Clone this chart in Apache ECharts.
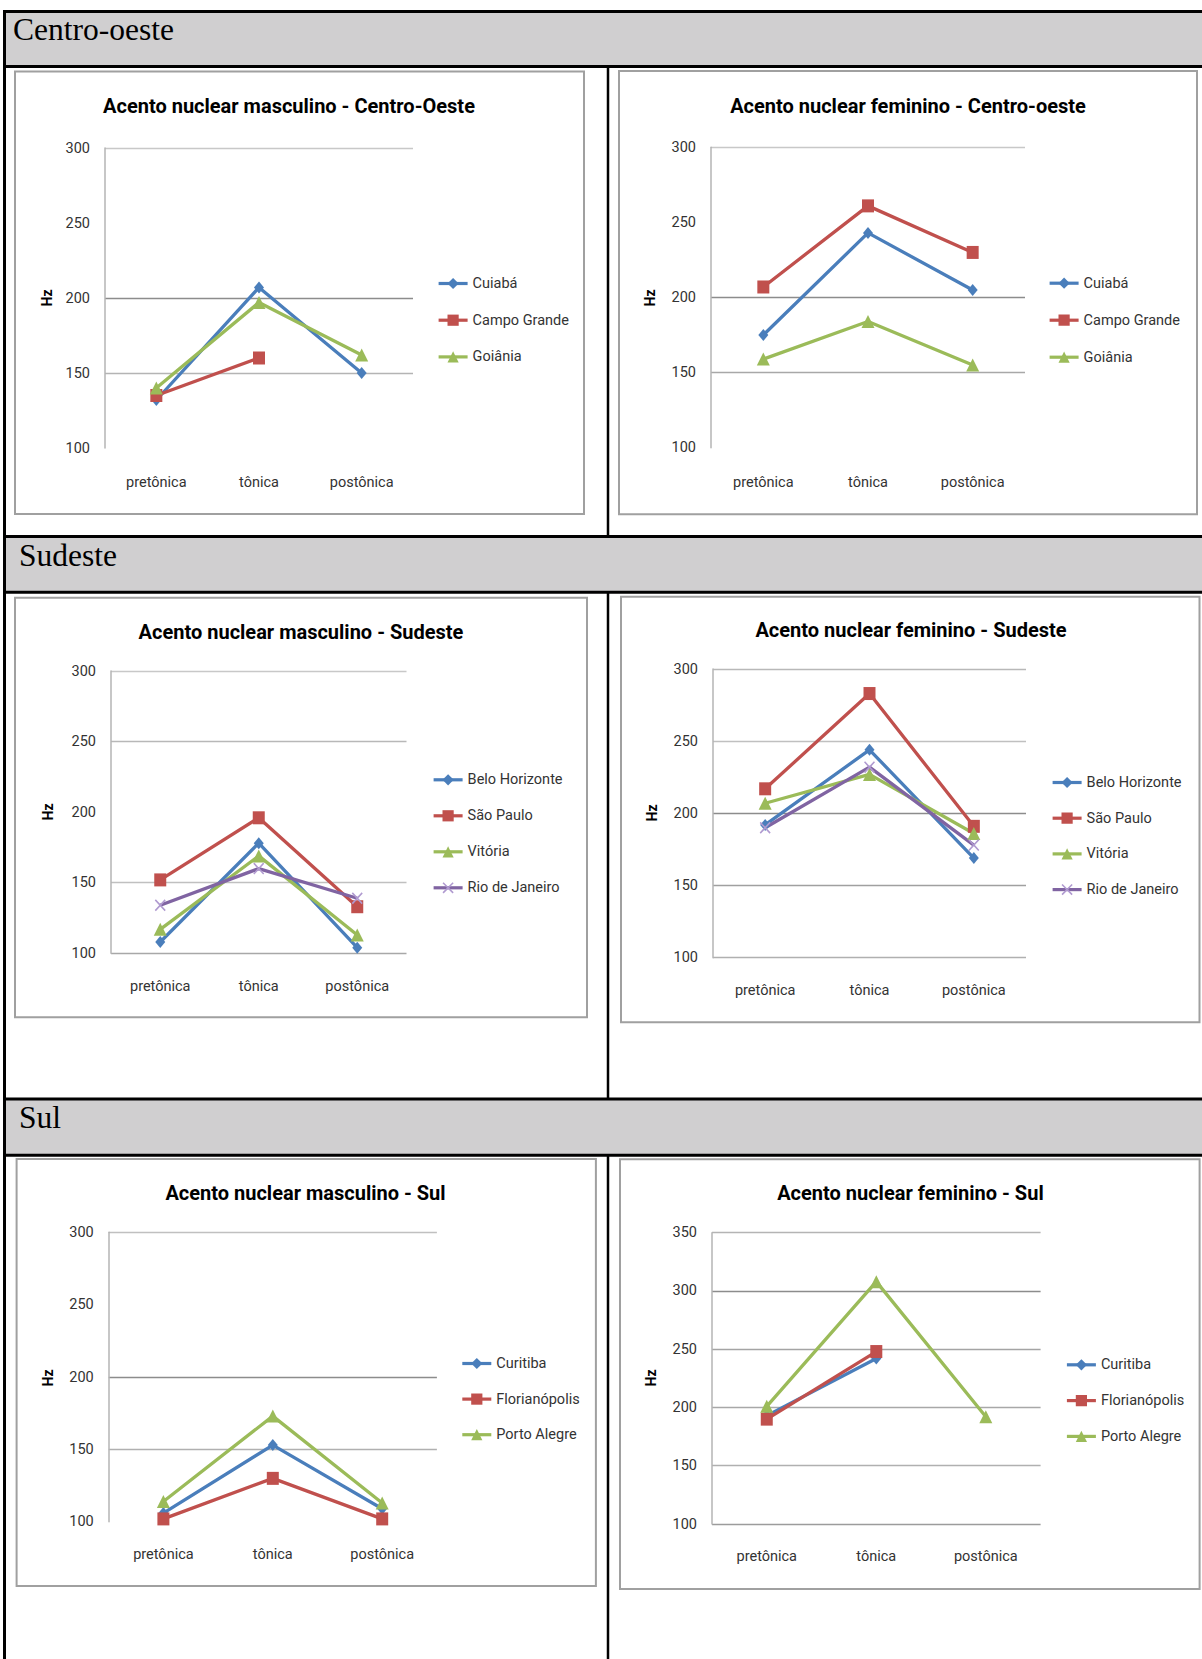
<!DOCTYPE html>
<html>
<head>
<meta charset="utf-8">
<title>Acento nuclear por região</title>
<script src="https://cdn.jsdelivr.net/npm/echarts@6/dist/echarts.min.js"></script>
<style>
  html, body { margin: 0; padding: 0; background: #ffffff; }
  #main { width: 1202px; height: 1659px; }
</style>
</head>
<body>
<div id="main"></div>
<script>
// ---- Data -------------------------------------------------------------
const categories = ['pretônica', 'tônica', 'postônica'];
const hzTicks = [100, 150, 200, 250, 300];
const hzTicksSul = [100, 150, 200, 250, 300, 350];

const regionNames = ['Centro-oeste', 'Sudeste', 'Sul'];
const chartTitles = [
  'Acento nuclear masculino - Centro-Oeste',
  'Acento nuclear feminino - Centro-oeste',
  'Acento nuclear masculino - Sudeste',
  'Acento nuclear feminino - Sudeste',
  'Acento nuclear masculino - Sul',
  'Acento nuclear feminino - Sul'
];

// Centro-Oeste (Hz)
const citiesCentroOeste = ['Cuiabá', 'Campo Grande', 'Goiânia'];
const cuiabaMasc = [132, 207, 150];
const campoGrandeMasc = [135, 160, null];
const goianiaMasc = [140, 197, 162];
const cuiabaFem = [175, 243, 205];
const campoGrandeFem = [207, 261, 230];
const goianiaFem = [159, 184, 155];

// Sudeste (Hz)
const citiesSudeste = ['Belo Horizonte', 'São Paulo', 'Vitória', 'Rio de Janeiro'];
const beloHorizonteMasc = [108, 178, 104];
const saoPauloMasc = [152, 196, 133];
const vitoriaMasc = [117, 169, 113];
const rioMasc = [134, 160, 139];
const beloHorizonteFem = [192, 244, 169];
const saoPauloFem = [217, 283, 191];
const vitoriaFem = [207, 227, 186];
const rioFem = [190, 232, 178];

// Sul (Hz)
const citiesSul = ['Curitiba', 'Florianópolis', 'Porto Alegre'];
const curitibaMasc = [106, 153, 109];
const florianopolisMasc = [102, 130, 102];
const portoAlegreMasc = [114, 173, 113];
const curitibaFem = [193, 242, null];
const florianopolisFem = [190, 248, null];
const portoAlegreFem = [201, 308, 192];

// ---- Styles -----------------------------------------------------------
const UI_FONT = 'Roboto, "Liberation Sans", sans-serif';
const HEAD_FONT = '"Liberation Serif", "DejaVu Serif", serif';
const TEXT_COLOR = '#333333';
const crossPath = 'path://M0,1 L1,0 L5,4 L9,0 L10,1 L6,5 L10,9 L9,10 L5,6 L1,10 L0,9 L4,5 Z';

// marker / colour for the 1st, 2nd, 3rd, 4th city of each chart
const seriesLook = [
  { line: '#4a7ebb', fill: '#4a7ebb', symbol: 'diamond', size: [10, 12] },
  { line: '#c0504d', fill: '#c0504d', symbol: 'rect', size: [12, 13] },
  { line: '#9bbb59', fill: '#9bbb59', symbol: 'triangle', size: [13, 13] },
  { line: '#8064a2', fill: '#b09ad0', symbol: crossPath, size: [11, 12] }
];

// ---- Panel layout ------------------------------------------------------
const panels = [
  { title: chartTitles[0], names: citiesCentroOeste, values: [cuiabaMasc, campoGrandeMasc, goianiaMasc], ticks: hzTicks,
    box: [15, 71.5, 569, 442.5], grid: [105, 148, 308, 300], titleAt: [289, 106], hzAt: [47, 298],
    legendAt: [437, 276], legendGap: 21.7, labelMargin: 26.5,
    gridColors: ['transparent', '#b4b4b4', '#8c8c8c', 'transparent', '#c8c8c8'] },
  { title: chartTitles[1], names: citiesCentroOeste, values: [cuiabaFem, campoGrandeFem, goianiaFem], ticks: hzTicks,
    box: [619, 71, 578, 443.3], grid: [711, 147.3, 314, 300.4], titleAt: [908, 106], hzAt: [650, 298],
    legendAt: [1048, 275.7], legendGap: 22, labelMargin: 27,
    gridColors: ['transparent', '#a8a8a8', '#8c8c8c', 'transparent', '#c8c8c8'] },
  { title: chartTitles[2], names: citiesSudeste, values: [beloHorizonteMasc, saoPauloMasc, vitoriaMasc, rioMasc], ticks: hzTicks,
    box: [15, 597.7, 572, 419.6], grid: [111, 671, 295.5, 282.3], titleAt: [301, 631.5], hzAt: [47.5, 812],
    legendAt: [432, 772.3], legendGap: 21, labelMargin: 25.5,
    gridColors: ['#a8a8a8', '#c0c0c0', 'transparent', '#b8b8b8', '#c8c8c8'] },
  { title: chartTitles[3], names: citiesSudeste, values: [beloHorizonteFem, saoPauloFem, vitoriaFem, rioFem], ticks: hzTicks,
    box: [621, 596.7, 578.5, 425.6], grid: [713, 669, 313, 288.7], titleAt: [911, 630], hzAt: [652, 813],
    legendAt: [1051, 775], legendGap: 20.7, labelMargin: 25.3,
    gridColors: ['#b0b0b0', '#a0a0a0', '#8c8c8c', '#c0c0c0', '#b8b8b8'] },
  { title: chartTitles[4], names: citiesSul, values: [curitibaMasc, florianopolisMasc, portoAlegreMasc], ticks: hzTicks,
    box: [16.6, 1159, 579.3, 427], grid: [108.7, 1232.2, 328.2, 289.6], titleAt: [305.5, 1192.5], hzAt: [47.5, 1378],
    legendAt: [460.7, 1356], legendGap: 20.6, labelMargin: 25.6,
    gridColors: ['transparent', '#b0b0b0', '#8c8c8c', 'transparent', '#c0c0c0'] },
  { title: chartTitles[5], names: citiesSul, values: [curitibaFem, florianopolisFem, portoAlegreFem], ticks: hzTicksSul,
    box: [620, 1159.3, 579.6, 429.7], grid: [712, 1232.7, 328.6, 291.3], titleAt: [910.4, 1193], hzAt: [651, 1378],
    legendAt: [1065.3, 1357.3], legendGap: 20.8, labelMargin: 25,
    gridColors: ['#9c9c9c', '#b0b0b0', '#a8a8a8', '#a4a4a4', '#8c8c8c', '#b4b4b4'] }
];

// ---- Build option -----------------------------------------------------
const grids = [], xAxes = [], yAxes = [], legends = [], series = [], graphics = [];

// table frame: grey region header rows, black rules
const headerRows = [[11.5, 66.5], [536.5, 592.3], [1099, 1155.3]];
const headerTextAt = [[13, 29.3], [19, 555.5], [19, 1117.2]];
headerRows.forEach(function (r, i) {
  graphics.push({ type: 'rect', z: -5, shape: { x: 4, y: r[0], width: 1198, height: r[1] - r[0] },
    style: { fill: '#d0cfd0', stroke: null } });
  graphics.push({ type: 'line', z: 5, shape: { x1: 3, y1: r[0], x2: 1202, y2: r[0] }, style: { stroke: '#000', lineWidth: 3 } });
  graphics.push({ type: 'line', z: 5, shape: { x1: 3, y1: r[1], x2: 1202, y2: r[1] }, style: { stroke: '#000', lineWidth: 3 } });
  graphics.push({ type: 'text', z: 6, x: headerTextAt[i][0], y: headerTextAt[i][1],
    style: { text: regionNames[i], font: '31.5px ' + HEAD_FONT, fill: '#000', align: 'left', verticalAlign: 'middle' } });
});
graphics.push({ type: 'line', z: 5, shape: { x1: 4.5, y1: 10, x2: 4.5, y2: 1659 }, style: { stroke: '#000', lineWidth: 3 } });
[[66.5, 536.5], [592.3, 1099], [1155.3, 1659]].forEach(function (s) {
  graphics.push({ type: 'line', z: 5, shape: { x1: 608, y1: s[0], x2: 608, y2: s[1] }, style: { stroke: '#000', lineWidth: 2.5 } });
});

panels.forEach(function (p, i) {
  // chart frame
  graphics.push({ type: 'rect', z: 1, shape: { x: p.box[0], y: p.box[1], width: p.box[2], height: p.box[3] },
    style: { fill: null, stroke: '#a0a0a0', lineWidth: 2 } });
  // chart title
  graphics.push({ type: 'text', z: 6, x: p.titleAt[0], y: p.titleAt[1],
    style: { text: p.title, font: 'bold 20px ' + UI_FONT, fill: '#000', align: 'center', verticalAlign: 'middle' } });
  // y axis name
  graphics.push({ type: 'text', z: 6, x: p.hzAt[0], y: p.hzAt[1], rotation: Math.PI / 2,
    style: { text: 'Hz', font: 'bold 14px ' + UI_FONT, fill: '#000', align: 'center', verticalAlign: 'middle' } });

  grids.push({ left: p.grid[0], top: p.grid[1], width: p.grid[2], height: p.grid[3],
    containLabel: false, outerBoundsMode: 'none' });

  xAxes.push({
    type: 'category', gridIndex: i, data: categories, boundaryGap: true,
    axisLine: { show: false }, axisTick: { show: false }, splitLine: { show: false },
    axisLabel: { margin: p.labelMargin, fontFamily: UI_FONT, fontSize: 14.5, color: TEXT_COLOR }
  });

  const t = p.ticks;
  yAxes.push({
    type: 'value', gridIndex: i, min: t[0], max: t[t.length - 1], interval: t[1] - t[0],
    axisLine: { show: true, lineStyle: { color: '#b4b4b4', width: 1.5 } },
    axisTick: { show: false },
    axisLabel: { margin: 15, fontFamily: UI_FONT, fontSize: 14.5, color: TEXT_COLOR },
    splitLine: { show: true, showMinLine: true, showMaxLine: true, lineStyle: { color: p.gridColors, width: 1.3 } }
  });

  legends.push({
    orient: 'vertical', left: p.legendAt[0], top: p.legendAt[1], padding: 0,
    itemWidth: 29, itemHeight: 14, itemGap: p.legendGap,
    data: p.names.slice(), selectedMode: false,
    lineStyle: { width: 3.2 },
    textStyle: { fontFamily: UI_FONT, fontSize: 14.5, color: TEXT_COLOR, lineHeight: 14 }
  });

  p.names.forEach(function (name, k) {
    const look = seriesLook[k];
    series.push({
      type: 'line', name: name, xAxisIndex: i, yAxisIndex: i,
      data: p.values[k],
      symbol: look.symbol, symbolSize: look.size, showAllSymbol: true,
      lineStyle: { color: look.line, width: 3.3 },
      itemStyle: { color: look.fill, borderWidth: 0 },
      emphasis: { disabled: true },
      connectNulls: false
    });
  });
});

const chart = echarts.init(document.getElementById('main'), null, { renderer: 'svg', width: 1202, height: 1659 });
chart.setOption({
  animation: false,
  backgroundColor: '#ffffff',
  grid: grids,
  xAxis: xAxes,
  yAxis: yAxes,
  legend: legends,
  series: series,
  graphic: { elements: graphics }
});
</script>
</body>
</html>
